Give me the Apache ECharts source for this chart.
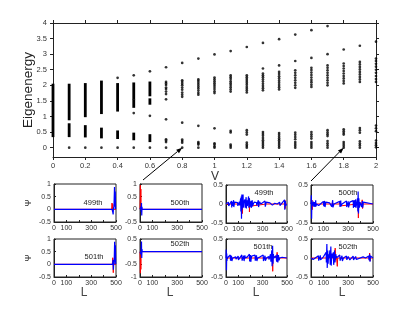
<!DOCTYPE html>
<html>
<head>
<meta charset="utf-8">
<script src="https://cdn.jsdelivr.net/npm/echarts@6/dist/echarts.min.js"></script>
<style>
html,body{margin:0;padding:0;background:#fff;}
#c{width:415px;height:312px;}
</style>
</head>
<body>
<div id="c"></div>
<script>
// ---------- main plot data ----------
const vValues = [0,0.1,0.2,0.3,0.4,0.5,0.6,0.7,0.8,0.9,1.0,1.1,1.2,1.3,1.4,1.5,1.6,1.7,1.8,1.9,2.0];
const yTickValues = [0,0.5,1,1.5,2,2.5,3,3.5,4];
// dense (continuous-looking) bands: [V, low, high]
const bandRanges = [
  [0,0.37,2.02],
  [0.1,0.91,2.02],[0.1,0.37,0.75],
  [0.2,1.01,2.04],[0.2,0.36,0.69],
  [0.3,1.11,2.12],[0.3,0.33,0.61],
  [0.4,1.19,2.04],[0.4,0.31,0.52],
  [0.5,1.57,2.06],[0.5,1.31,1.52],[0.5,0.27,0.45],
  [0.6,1.68,2.09],[0.6,1.41,1.55],[0.6,0.21,0.40]
];
// isolated eigenvalues, one list per V
const dotLevels = [
  [],
  [0],
  [0],
  [0],
  [2.24,0],
  [2.32,1.11,0],
  [2.45,1.02,0],
  [2.58,2.11,2.06,2.01,1.93,1.88,1.80,1.72,1.55,0.91,0.27,0.23,0.18,0],
  [2.72,2.16,2.11,2.05,2.00,1.93,1.86,1.77,1.70,1.63,0.80,0.26,0.21,0.16,0],
  [2.86,2.19,2.14,2.08,2.02,1.96,1.90,1.83,1.76,1.70,0.70,0.18,0.14,0.10,0],
  [2.99,2.25,2.19,2.13,2.07,2.01,1.95,1.88,1.81,1.75,0.62,0.14,0.10,0.04,0],
  [3.10,2.32,2.26,2.20,2.13,2.07,2.01,1.94,1.87,1.80,0.54,0.49,0.10,0.05,0],
  [3.23,2.32,2.26,2.20,2.14,2.08,2.02,1.95,1.89,1.83,1.77,0.56,0.49,0.42,0.16,0.10,0.05,0],
  [3.36,2.54,2.38,2.32,2.26,2.19,2.12,2.05,1.98,1.91,1.84,0.50,0.44,0.38,0.31,0.24,0.18,0.12,0.06,0],
  [3.48,2.64,2.43,2.36,2.29,2.22,2.15,2.08,2.01,1.94,1.87,0.47,0.41,0.35,0.29,0.24,0.18,0.12,0.06,0],
  [3.63,2.78,2.48,2.40,2.32,2.24,2.16,2.08,2.00,1.92,0.48,0.41,0.34,0.27,0.18,0.12,0.06,0],
  [3.77,2.88,2.56,2.49,2.41,2.33,2.25,2.17,2.10,2.02,1.95,0.50,0.43,0.36,0.29,0.18,0.12,0.06,0],
  [3.90,3.00,2.64,2.56,2.48,2.40,2.32,2.24,2.16,2.08,2.00,0.56,0.49,0.43,0.37,0.21,0.14,0.07,0],
  [3.15,2.70,2.62,2.54,2.46,2.38,2.30,2.22,2.14,2.06,0.59,0.53,0.47,0.42,0.18,0.12,0.06,0],
  [3.27,2.75,2.67,2.59,2.51,2.43,2.35,2.27,2.19,2.11,0.63,0.56,0.48,0.20,0.13,0.07,0],
  [3.40,2.86,2.78,2.69,2.60,2.50,2.40,2.30,2.20,2.11,0.71,0.62,0.53,0.23,0.15,0.08,0.01]
];

// ---------- wavefunction panels: [L, psi] ----------
const red499L = [[0,0],[465,0],[468,0.25],[471,-0.08],[474,0.2],[477,0],[500,0]];
const blue499L = [[0,0],[470,0],[474,0.05],[477,-0.2],[480,0.08],[483,0],[488,0.88],[491,0.1],[494,0.7],[497,0],[500,0]];
const red500L = [[0,0],[3,0.95],[5,0.3],[7,0.8],[9,0],[500,0]];
const blue500L = [[0,0],[8,0.1],[10,-0.1],[12,0.25],[14,-0.24],[16,0.1],[18,0],[500,0]];
const red501L = [[0,0],[470,0],[474,0.26],[478,-0.33],[482,0.15],[485,0],[500,0]];
const blue501L = [[0,0],[472,0],[476,0.18],[479,-0.21],[482,0.1],[485,0],[489,0.89],[492,0.1],[495,0.75],[498,0],[500,0]];
const red502L = [[0,0],[3,-0.85],[5,-0.3],[7,-0.7],[9,0],[500,0]];
const blue502L = [[0,0],[8,-0.1],[10,0.15],[12,0.4],[14,-0.25],[16,0.1],[18,0],[500,0]];

const red499R = [[0,0],[130,0],[133,0.1],[135,-0.25],[137,0.05],[145,0],[188,0.08],[190,0.15],[192,-0.21],[194,0],[210,0],[212,0.06],[214,-0.05],[230,0],[330,0],[332,0.05],[334,-0.05],[336,0],[480,0],[483,0.1],[485,-0.12],[487,0],[500,0]];
const blue499R = [[0,0],[10,0.03],[12,-0.03],[20,0.05],[22,-0.05],[30,0],[45,0.08],[47,-0.09],[50,0.06],[55,-0.05],[62,0.1],[64,-0.08],[70,0.05],[80,0],[95,0.04],[97,-0.05],[110,0.06],[112,-0.04],[120,0.15],[122,-0.2],[125,0.2],[127,-0.39],[130,0.25],[132,-0.15],[136,0.1],[140,0.25],[142,-0.1],[146,0.05],[155,0.12],[157,-0.1],[165,0.18],[167,-0.12],[172,0.1],[175,-0.05],[185,0.2],[187,-0.1],[192,0.15],[195,-0.08],[205,0.08],[207,-0.1],[215,0.1],[217,-0.06],[230,0.05],[240,0],[250,0.04],[252,-0.04],[265,0.1],[267,-0.08],[275,0.06],[285,0],[300,0.03],[320,0.08],[322,-0.07],[330,0.05],[345,0],[360,0.03],[380,-0.03],[400,0.02],[420,0],[440,0.05],[442,-0.04],[480,0.11],[482,-0.15],[486,0.08],[490,-0.05],[495,0],[500,0]];
const red500R = [[0,0],[6,0],[8,0.1],[10,-0.15],[12,0],[230,0],[234,0.07],[236,-0.05],[238,0],[376,0],[379,0.1],[382,-0.37],[385,0.05],[388,0],[410,0],[413,0.11],[416,-0.12],[419,0],[500,0]];
const blue500R = [[0,0],[3,0.23],[5,-0.39],[7,0.1],[9,-0.05],[12,0],[20,0.06],[22,-0.07],[30,0.05],[33,-0.08],[38,0.1],[40,-0.06],[45,0],[60,0.04],[62,-0.04],[75,0],[100,0.07],[103,-0.06],[110,0.08],[113,-0.08],[120,0.05],[125,0],[150,0.03],[165,0.08],[167,-0.07],[175,0.1],[177,-0.09],[185,0],[200,0.03],[232,0.07],[234,-0.08],[240,0.09],[242,-0.06],[250,0],[286,0.08],[288,-0.08],[300,0.07],[303,-0.09],[313,0.05],[320,0],[340,0.09],[342,-0.1],[350,0.1],[352,-0.08],[360,0.12],[362,-0.1],[368,0],[375,0.15],[378,-0.2],[380,0.33],[383,-0.25],[386,0.15],[390,-0.1],[395,0.05],[405,0.1],[408,-0.08],[414,0.08],[417,-0.1],[422,0.05],[430,0],[500,0]];
const red501R = [[0,0],[375,0],[380,0.08],[383,-0.35],[386,0.05],[390,0],[415,0],[419,0.15],[422,-0.1],[425,0],[500,0]];
const blue501R = [[0,0],[2,0.22],[4,-0.32],[6,0.12],[8,-0.08],[10,0],[20,0.04],[22,-0.04],[35,0.08],[37,-0.07],[45,0.06],[48,-0.08],[55,0],[80,0.03],[82,-0.03],[100,0.05],[102,-0.05],[110,0],[130,0.08],[132,-0.07],[145,0.06],[148,-0.08],[155,0.07],[158,0],[175,0.03],[192,0.1],[194,-0.09],[200,0.08],[203,-0.1],[210,0.05],[215,0],[238,0.08],[240,-0.07],[250,0.07],[253,-0.08],[260,0],[280,0.03],[305,0.08],[307,-0.08],[320,0.06],[323,-0.07],[332,0],[350,0.04],[352,-0.04],[365,0.1],[368,-0.1],[375,0.2],[378,-0.22],[382,0.32],[385,-0.15],[388,0.1],[392,0],[410,0.06],[415,-0.1],[420,0.1],[425,-0.12],[430,0.08],[435,-0.06],[440,0],[460,0.02],[500,0]];
const red502R = [[0,0],[185,0],[188,0.1],[191,-0.1],[195,0.26],[198,-0.05],[205,0.05],[208,0],[210,0.05],[212,-0.22],[215,0],[470,0],[473,0.13],[476,-0.08],[479,0],[500,0]];
const blue502R = [[0,0],[5,0.04],[7,-0.05],[15,0.05],[17,-0.04],[25,0],[60,0.06],[62,-0.07],[75,0.07],[77,-0.05],[85,0],[100,0.03],[110,0],[122,0.15],[124,-0.12],[128,0.37],[131,-0.26],[135,0.2],[138,-0.15],[142,0.1],[147,0],[152,0.2],[155,-0.18],[160,0.3],[163,-0.2],[168,0.12],[172,0],[180,0.15],[183,-0.18],[190,0.2],[193,-0.12],[200,0.1],[205,0],[215,0.05],[232,0.08],[235,-0.07],[250,0.06],[253,-0.08],[262,0],[286,0.05],[289,-0.05],[300,0.04],[313,-0.05],[320,0],[340,0.05],[343,-0.05],[360,0.04],[366,-0.04],[375,0],[420,0.03],[440,0],[465,0.05],[468,-0.06],[473,0.1],[476,-0.1],[480,0.05],[485,0],[500,0]];

const panelLabels = ['499th','500th','501th','502th','499th','500th','501th','502th'];

// ---------- build ----------
const FONT = 'Liberation Sans, Arial, sans-serif';
const TXT = '#333';
const LINE = '#222';

const dots = [];
vValues.forEach((v,i)=>dotLevels[i].forEach(e=>dots.push([v,e])));

const panels = [
  {grid:{left:54,top:184,width:62,height:38}, y:[-0.5,1], red:red499L, blue:blue499L},
  {grid:{left:140,top:184,width:62,height:38}, y:[-0.5,1], red:red500L, blue:blue500L},
  {grid:{left:54,top:239,width:62,height:38}, y:[-0.5,1], red:red501L, blue:blue501L},
  {grid:{left:140,top:239,width:62,height:38}, y:[-1,0.5], red:red502L, blue:blue502L},
  {grid:{left:226,top:185,width:61,height:38}, y:[-0.5,0.5], red:red499R, blue:blue499R},
  {grid:{left:311,top:185,width:62,height:38}, y:[-0.5,0.5], red:red500R, blue:blue500R},
  {grid:{left:226,top:239,width:61,height:38}, y:[-0.5,0.5], red:red501R, blue:blue501R},
  {grid:{left:311,top:239,width:62,height:38}, y:[-0.5,0.5], red:red502R, blue:blue502R}
];
const labelPos = [[93,203],[180,203],[94,257],[180,244],[264,193],[348,193],[263,247],[348,247]];

const grids = [{left:53, top:23, width:323, height:134, outerBoundsMode:'none', containLabel:false}];
const xAxes = [
  {gridIndex:0, type:'value', min:0, max:2, interval:0.2, position:'bottom',
   axisLine:{onZero:false, lineStyle:{color:LINE,width:1}},
   axisTick:{length:3, lineStyle:{color:LINE}},
   axisLabel:{fontSize:7.5, color:TXT, margin:5, fontFamily:FONT, showMinLabel:true, showMaxLabel:true},
   splitLine:{show:false}},
  {gridIndex:0, type:'value', min:0, max:2, interval:0.2, position:'top',
   axisLine:{onZero:false, lineStyle:{color:LINE,width:1}},
   axisTick:{length:3, lineStyle:{color:LINE}},
   axisLabel:{show:false}, splitLine:{show:false}}
];
const yAxes = [
  {gridIndex:0, type:'value', min:-0.3, max:4, position:'left',
   axisLine:{onZero:false, lineStyle:{color:LINE,width:1}},
   axisTick:{length:3, lineStyle:{color:LINE}, customValues:yTickValues},
   axisLabel:{fontSize:7.5, color:TXT, margin:6, fontFamily:FONT, customValues:yTickValues},
   splitLine:{show:false}},
  {gridIndex:0, type:'value', min:-0.3, max:4, position:'right',
   axisLine:{onZero:false, lineStyle:{color:LINE,width:1}},
   axisTick:{length:3, lineStyle:{color:LINE}, customValues:yTickValues},
   axisLabel:{show:false}, splitLine:{show:false}}
];
const series = [
  {type:'custom', xAxisIndex:0, yAxisIndex:0, data:bandRanges, silent:true, clip:false, z:10,
   encode:{x:0, y:[1,2]},
   renderItem:function(params, api){
     const v = api.value(0), lo = api.value(1), hi = api.value(2);
     const pTop = api.coord([v,hi]), pBot = api.coord([v,lo]);
     return {type:'rect', shape:{x:pTop[0]-1.4, y:pTop[1]-1, width:2.8, height:pBot[1]-pTop[1]+2}, style:{fill:'#000'}};
   }},
  {type:'scatter', xAxisIndex:0, yAxisIndex:0, data:dots, symbol:'circle', symbolSize:2.7,
   itemStyle:{color:'#000'}, silent:true, clip:false, z:10}
];

panels.forEach((p,k)=>{
  const gi = k+1;      // grid index
  const ai = k+2;      // axis index (main grid owns two x and two y axes)
  grids.push(Object.assign({show:true, borderColor:LINE, borderWidth:1, backgroundColor:'transparent', outerBoundsMode:'none', containLabel:false}, p.grid));
  xAxes.push({gridIndex:gi, type:'value', min:0, max:500, interval:100,
    axisLine:{onZero:false, lineStyle:{color:LINE,width:1}},
    axisTick:{inside:true, length:2, lineStyle:{color:LINE}},
    axisLabel:{fontSize:7, color:TXT, margin:3, fontFamily:FONT, showMinLabel:true, showMaxLabel:true,
      formatter:function(v){return (v===200||v===400)?'':String(v);}},
    splitLine:{show:false}});
  yAxes.push({gridIndex:gi, type:'value', min:p.y[0], max:p.y[1], interval:0.5,
    axisLine:{onZero:false, lineStyle:{color:LINE,width:1}},
    axisTick:{inside:true, length:2, lineStyle:{color:LINE}},
    axisLabel:{fontSize:7, color:TXT, margin:3, fontFamily:FONT, showMinLabel:true, showMaxLabel:true},
    splitLine:{show:false}});
  series.push({type:'line', xAxisIndex:ai, yAxisIndex:ai, data:p.red, showSymbol:false, silent:true,
    lineStyle:{color:'#ff0000', width:1}, z:2});
  series.push({type:'line', xAxisIndex:ai, yAxisIndex:ai, data:p.blue, showSymbol:false, silent:true,
    lineStyle:{color:'#0000ff', width:1.2}, z:3});
});

const chart = echarts.init(document.getElementById('c'), null, {renderer:'canvas'});
chart.setOption({animation:false, grid:grids, xAxis:xAxes, yAxis:yAxes, series:series});

// ---------- annotations ----------
const gfx = [];
gfx.push({type:'text', x:28, y:90, rotation:Math.PI/2,
  style:{text:'Eigenenergy', font:'13.5px '+FONT, fill:'#222', textAlign:'center', textVerticalAlign:'middle'}});
gfx.push({type:'text', x:215, y:177,
  style:{text:'V', font:'12px '+FONT, fill:'#333', textAlign:'center', textVerticalAlign:'middle'}});
[84,170,256,342].forEach(x=>gfx.push({type:'text', x:x, y:293,
  style:{text:'L', font:'12px '+FONT, fill:'#444', textAlign:'center', textVerticalAlign:'middle'}}));
[203,258].forEach(y=>gfx.push({type:'text', x:29, y:y, rotation:Math.PI/2,
  style:{text:'Ψ', font:'9px '+FONT, fill:'#333', textAlign:'center', textVerticalAlign:'middle'}}));
panelLabels.forEach((t,k)=>gfx.push({type:'text', x:labelPos[k][0], y:labelPos[k][1],
  style:{text:t, font:'7.5px '+FONT, fill:'#222', textAlign:'center', textVerticalAlign:'middle'}}));

function arrow(from, to){
  const dx = to[0]-from[0], dy = to[1]-from[1];
  const len = Math.sqrt(dx*dx+dy*dy), ux = dx/len, uy = dy/len;
  const hl = 6, hw = 2.2;
  const bx = to[0]-ux*hl, by = to[1]-uy*hl;
  gfx.push({type:'line', shape:{x1:from[0], y1:from[1], x2:bx, y2:by}, style:{stroke:'#000', lineWidth:1}, z:50});
  gfx.push({type:'polygon', shape:{points:[[to[0],to[1]],[bx-uy*hw, by+ux*hw],[bx+uy*hw, by-ux*hw]]}, style:{fill:'#000'}, z:50});
}
const tip1 = chart.convertToPixel({xAxisIndex:0, yAxisIndex:0}, [0.8, 0]);
const tip2 = chart.convertToPixel({xAxisIndex:0, yAxisIndex:0}, [1.8, 0]);
arrow([143, 180], tip1);
arrow([311, 181], tip2);

chart.setOption({graphic:{elements:gfx}});
</script>
</body>
</html>
